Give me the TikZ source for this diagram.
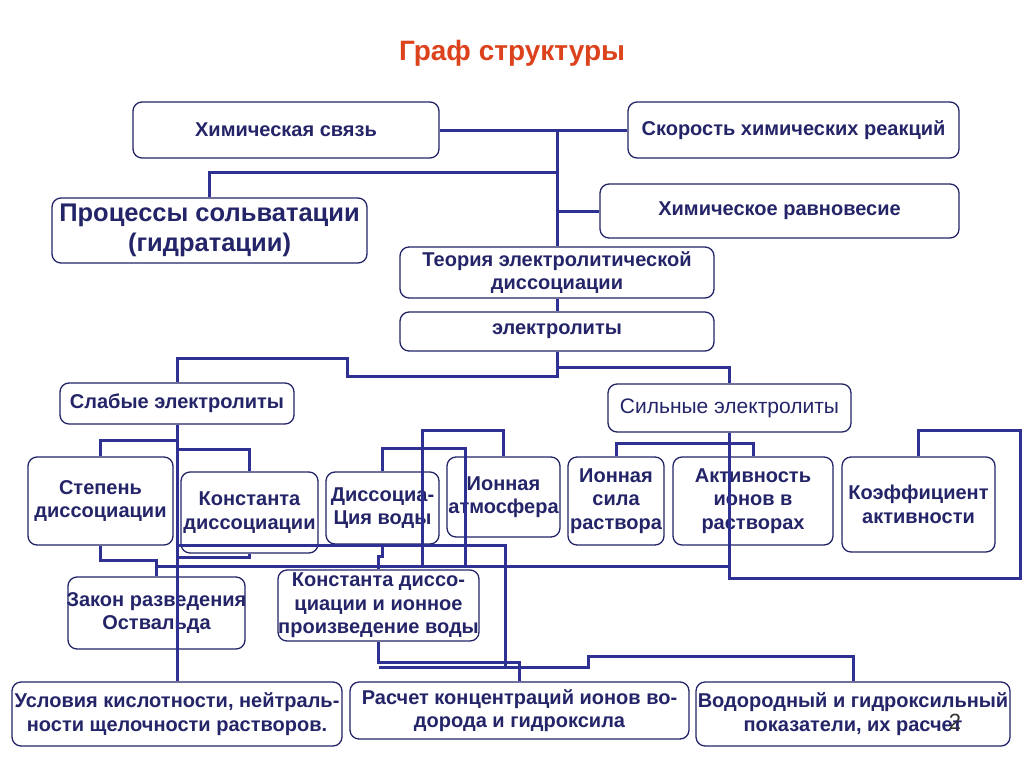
\documentclass[tikz,border=0pt]{standalone}
\usepackage{fontspec}
\setmainfont{Liberation Sans}
\usepackage{xcolor}
\usetikzlibrary{positioning}
\definecolor{navy}{RGB}{46,49,146}
\definecolor{ink}{RGB}{36,36,104}
\definecolor{titlered}{RGB}{220,66,28}
\newcommand{\spill}[1]{\makebox[0pt]{#1}}
\tikzset{
  box/.style={rectangle, rounded corners=9pt, draw=ink, line width=1.3pt,
    fill=white, align=center, text=ink, inner sep=1pt,
    font=\fontsize{20}{23.5}\selectfont\bfseries},
  bigbox/.style={box, font=\fontsize{25.5}{30}\selectfont\bfseries},
  plainbox/.style={box, font=\fontsize{21}{24}\selectfont},
  heading/.style={font=\fontsize{28}{32}\selectfont\bfseries, text=titlered},
  wire/.style={draw=navy, line width=3pt},
}

\begin{document}
\begin{tikzpicture}[x=1pt, y=-1pt]
  \fill[white] (0,0) rectangle (1024,768);
  \useasboundingbox (0,0) rectangle (1024,768);
  \node[heading] (ttl) at (512,53) {Граф структуры};
  % upper row
  \node[box, minimum width=306pt, minimum height=56pt] (chem) at (286,130) {Химическая связь};
  \node[box, minimum width=331pt, minimum height=56pt] (rate) at (793.5,130) {Скорость химических реакций};
  \node[bigbox, minimum width=315pt, minimum height=65pt] (solv) at (209.5,230.5) {Процессы сольватации\\(гидратации)};
  \node[box, minimum width=359pt, minimum height=54pt] (equil) at (779.5,211) {Химическое равновесие};
  \node[box, minimum width=314pt, minimum height=51pt] (theory) at (557,272.5) {Теория электролитической\\диссоциации};
  \node[box, minimum width=314pt, minimum height=39pt] (electro) at (557,331.5) {электролиты};
  \node[box, minimum width=234pt, minimum height=41pt] (weak) at (177,403.5) {Слабые электролиты};
  \node[plainbox, minimum width=243pt, minimum height=48pt] (strong) at (729.5,408) {Сильные электролиты};
  % middle row
  \node[box, minimum width=145pt, minimum height=88pt] (degree) at (100.5,501) {Степень\\диссоциации};
  \node[box, minimum width=137pt, minimum height=81pt] (kconst) at (249.5,512.5) {Константа\\диссоциации};
  \node[box, minimum width=113pt, minimum height=72pt] (water) at (382.5,508) {\spill{Диссоциа-}\\\spill{Ция воды}};
  \node[box, minimum width=113pt, minimum height=80pt] (atmos) at (503.5,497) {\spill{Ионная}\\\spill{атмосфера}};
  \node[box, minimum width=96pt, minimum height=88pt] (istrength) at (616,501) {\spill{Ионная}\\\spill{сила}\\\spill{раствора}};
  \node[box, minimum width=160pt, minimum height=88pt] (activity) at (753,501) {Активность\\ионов в\\растворах};
  \node[box, minimum width=153pt, minimum height=95pt] (coeff) at (918.5,504.5) {Коэффициент\\активности};
  \node[box, minimum width=177pt, minimum height=72pt] (ostwald) at (156.5,613) {\spill{Закон разведения}\\\spill{Оствальда}};
  \node[box, minimum width=201pt, minimum height=71pt] (kwater) at (378.5,605.5) {\spill{Константа диссо-}\\\spill{циации и ионное}\\\spill{произведение воды}};
  % bottom row
  \node[box, minimum width=330pt, minimum height=64pt] (acid) at (177,714) {\spill{Условия кислотности, нейтраль-}\\\spill{ности щелочности растворов.}};
  \node[box, minimum width=339pt, minimum height=57pt] (calc) at (519.5,710.5) {Расчет концентраций ионов во-\\дорода и гидроксила};
  \node[box, minimum width=314pt, minimum height=64pt] (ph) at (853,714) {\spill{Водородный и гидроксильный}\\\spill{показатели, их расчет}};
  % connectors
  \draw[wire] (chem.east) -- (rate.west);
  \draw[wire] (557,130) -- (theory.north);
  \draw[wire] (557,172) -| (solv.north);
  \draw[wire] (557,211) -- (equil.west);
  \draw[wire] (theory.south) -- (electro.north);
  \draw[wire] (electro.south) -- (557,376) -- (347,376) -- (347,358) -| (weak.north);
  \draw[wire] (557,367) -| (strong.north);
  \draw[wire] (weak.south) -- (acid.north);
  \draw[wire] (177,440) -| (degree.north);
  \draw[wire] (177,449) -| (kconst.north);
  \draw[wire] (degree.south) -- (100.5,560) -| (ostwald.north);
  \draw[wire] (kconst.south) -- (249.5,557) -- (177,557);
  \draw[wire] (156.5,566) -- (729.5,566);
  \draw[wire] (422,566) -- (422,430) -| (atmos.north);
  \draw[wire] (465,566) -- (465,448) -| (water.north);
  \draw[wire] (177,545) -- (505,545) -- (505,667);
  \draw[wire] (water.south) -- (382.5,556) -- (378.5,556) -- (kwater.north);
  \draw[wire] (kwater.south) -- (378.5,662) -| (calc.north);
  \draw[wire] (378.5,667) -- (588,667) -- (588,656) -| (ph.north);
  \draw[wire] (strong.south) -- (729.5,578) -- (1020,578) -- (1020,430) -| (coeff.north);
  \draw[wire] (istrength.north) -- (616,443) -| (activity.north);
  \node[font=\fontsize{22}{24}\selectfont, text=black!80] (pg) at (955,722) {2};
\end{tikzpicture}
\end{document}
